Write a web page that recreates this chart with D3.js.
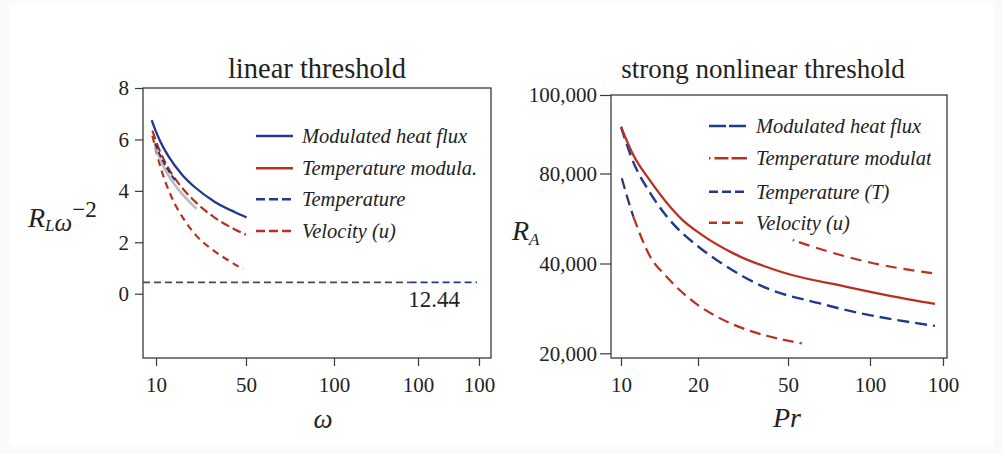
<!DOCTYPE html>
<html>
<head>
<meta charset="utf-8">
<script src="https://cdn.jsdelivr.net/npm/d3@7"></script>
<style>
  html, body { margin: 0; padding: 0; background: #fafafb; }
  svg { display: block; font-family: "Liberation Serif", "DejaVu Serif", serif; }
</style>
</head>
<body>
<svg id="chart" width="1003" height="454"></svg>
<script>
// ---------- data: linear threshold panel (x = ω, y = R_L ω^-2) ----------
const omegaTicks = [10, 50, 100, 200, 500];
const omegaTickLabels = ["10", "50", "100", "100", "100"];
const linearTicks = [0, 2, 4, 6, 8];

const heatFluxLinear = [[8.1, 6.75], [9.56, 6.40], [11.8, 5.94], [15.5, 5.35], [21.4, 4.65], [27.3, 4.14], [36.2, 3.57], [45.1, 3.17], [50.3, 2.97]];
const tempModLinear = [[8.4, 6.34], [11, 5.70], [15.5, 4.88], [21.4, 4.14], [27.3, 3.59], [36.2, 2.95], [45.1, 2.50], [50, 2.29]];
const temperatureLinear = [[9.6, 5.85], [12, 5.35], [15, 4.87], [18.4, 4.42]];
const velocityLinear = [[8.4, 6.14], [12.5, 4.78], [17, 3.74], [22.9, 2.83], [28.1, 2.24], [34.8, 1.73], [42.1, 1.30], [48.8, 0.95]];
const referenceLinear = [[9.5, 5.80], [12, 5.20], [15.5, 4.60], [20, 4.05], [24, 3.65], [28, 3.30]];

const thresholdValue = 0.44;
const thresholdGraySpan = [4.2, 190];
const thresholdBlueSpan = [190, 490];
const thresholdLabel = "12.44";

const legendLabelsLinear = ["Modulated heat flux", "Temperature modula.", "Temperature", "Velocity (u)"];

// ---------- data: strong nonlinear threshold panel (x = Pr, y = R_A) ----------
const prTicks = [10, 20, 50, 100, 200];
const prTickLabels = ["10", "20", "50", "100", "100"];
const raTicks = [20000, 40000, 80000, 100000];

const tempModStrong = [[10, 91900], [11.6, 84700], [13.8, 76700], [18, 59300], [20.7, 53300], [31.8, 44500], [48.4, 38000], [85.8, 34800], [127.4, 32800], [189, 31000]];
const temperatureStrong = [[10, 91900], [11.6, 82900], [13.8, 71300], [15.9, 61100], [20.7, 46900], [26.2, 41600], [42.9, 34500], [69.5, 31100], [85.8, 29600], [189, 26100]];
const velocityStrongHead = [[10.1, 77900], [10.8, 69600], [11.6, 60800]];
const velocityStrong = [[11.6, 60800], [13.8, 43000], [15.9, 37100], [20.7, 30400], [26.2, 28200], [37.3, 25000], [42.9, 23900], [58.4, 22200]];
const velocityUpperStrong = [[52.9, 50400], [75.6, 45100], [100, 40450], [186.7, 37800]];

const legendLabelsStrong = ["Modulated heat flux", "Temperature modulation", "Temperature (T)", "Velocity (u)"];

// ---------- styling ----------
const BLUE = "#21398a";
const NAVY = "#2c3466";
const RED = "#b83020";
const GRAY = "#b9bcc4";
const AXIS = "#3a3a3a";
const INK = "#222";
const SERIF = '"Liberation Serif", "DejaVu Serif", serif';

const svg = d3.select("#chart");
svg.append("rect").attr("x", 9).attr("y", 3).attr("width", 985).attr("height", 444).attr("fill", "#ffffff");

function frame(g, w, h) {
  g.append("rect").attr("width", w).attr("height", h)
    .attr("fill", "#fff").attr("stroke", AXIS).attr("stroke-width", 1.3);
}

function styleAxis(sel) {
  sel.attr("font-family", SERIF);
  sel.select(".domain").remove();
  sel.selectAll(".tick line").attr("stroke", AXIS).attr("stroke-width", 1.2);
  sel.selectAll(".tick text").attr("fill", INK).attr("font-size", 21);
}

function drawSeries(g, data, x, y, stroke, width, dash) {
  const line = d3.line().x(d => x(d[0])).y(d => y(d[1])).curve(d3.curveMonotoneX);
  g.append("path").datum(data)
    .attr("d", line)
    .attr("fill", "none")
    .attr("stroke", stroke)
    .attr("stroke-width", width)
    .attr("stroke-linecap", "butt")
    .attr("stroke-dasharray", dash || null);
}

function legend(g, x0, rows, entries, sampleLen, clipped) {
  const lg = g.append("g");
  entries.forEach((e, i) => {
    lg.append("line")
      .attr("x1", x0).attr("x2", x0 + sampleLen)
      .attr("y1", rows[i]).attr("y2", rows[i])
      .attr("stroke", e.color).attr("stroke-width", 2.4)
      .attr("stroke-dasharray", e.dash || null);
    lg.append("text")
      .attr("x", x0 + sampleLen + 9).attr("y", rows[i] + 7)
      .attr("font-size", 20.5).attr("font-style", "italic").attr("fill", INK)
      .attr("clip-path", clipped ? "url(#legendClip)" : null)
      .text(e.label);
  });
}

// ---------- left panel ----------
const L = { x: 143, y: 88, w: 348, h: 270 };
const gL = svg.append("g").attr("transform", `translate(${L.x},${L.y})`);
frame(gL, L.w, L.h);

const xL = d3.scaleLinear().domain(omegaTicks).range([13, 103, 191, 275, 336]);
const yL = d3.scaleLinear().domain([-2.5, 8]).range([L.h, 0]);

gL.append("g").attr("transform", `translate(0,${L.h})`)
  .call(d3.axisBottom(xL).tickValues(omegaTicks).tickFormat((d, i) => omegaTickLabels[i]).tickSize(8).tickPadding(11))
  .call(styleAxis);
gL.append("g")
  .call(d3.axisLeft(yL).tickValues(linearTicks).tickFormat(d3.format("d")).tickSize(8).tickPadding(6))
  .call(styleAxis);

// threshold line
drawSeries(gL, thresholdGraySpan.map(w => [w, thresholdValue]), xL, yL, "#4a4a4a", 1.8, "7,4");
drawSeries(gL, thresholdBlueSpan.map(w => [w, thresholdValue]), xL, yL, BLUE, 1.8, "7,4");
gL.append("text")
  .attr("x", xL(thresholdBlueSpan[1]) - 17)
  .attr("y", yL(thresholdValue) + 25)
  .attr("text-anchor", "end").attr("font-size", 23).attr("fill", INK)
  .text(thresholdLabel);

drawSeries(gL, velocityLinear, xL, yL, RED, 2.2, "7,5");
drawSeries(gL, tempModLinear, xL, yL, RED, 2.2, "9,4");
drawSeries(gL, referenceLinear, xL, yL, GRAY, 2.6, null);
drawSeries(gL, temperatureLinear, xL, yL, NAVY, 2.0, "6,3");
drawSeries(gL, heatFluxLinear, xL, yL, BLUE, 2.3, null);

legend(gL, 113, [48, 80.3, 111.3, 143], [
  { label: legendLabelsLinear[0], color: BLUE, dash: null },
  { label: legendLabelsLinear[1], color: RED, dash: null },
  { label: legendLabelsLinear[2], color: BLUE, dash: "9,4" },
  { label: legendLabelsLinear[3], color: RED, dash: "9,4" }
], 37, false);

svg.append("text").attr("x", L.x + L.w / 2).attr("y", 78)
  .attr("text-anchor", "middle").attr("font-size", 28.5).attr("fill", INK)
  .text("linear threshold");

// y label R_L ω^-2
const yLab = svg.append("text").attr("x", 28).attr("y", 227).attr("fill", INK);
yLab.append("tspan").attr("font-style", "italic").attr("font-size", 28).text("R");
yLab.append("tspan").attr("font-style", "italic").attr("font-size", 17).attr("dy", 4).text("L");
yLab.append("tspan").attr("font-style", "italic").attr("font-size", 25).text("ω");
yLab.append("tspan").attr("font-size", 23).attr("dy", -14).text("−2");

svg.append("text").attr("x", 323).attr("y", 428)
  .attr("text-anchor", "middle").attr("font-size", 27).attr("font-style", "italic").attr("fill", INK)
  .text("ω");

// ---------- right panel ----------
const R = { x: 611, y: 95, w: 336, h: 263 };
const gR = svg.append("g").attr("transform", `translate(${R.x},${R.y})`);
frame(gR, R.w, R.h);

const xR = d3.scaleLinear().domain(prTicks).range([10, 87, 177, 259, 332]);
const yR = d3.scaleLinear().domain(raTicks).range([258.3, 168.5, 78.5, 0]);

gR.append("g").attr("transform", `translate(0,${R.h})`)
  .call(d3.axisBottom(xR).tickValues(prTicks).tickFormat((d, i) => prTickLabels[i]).tickSize(8).tickPadding(11))
  .call(styleAxis);
gR.append("g")
  .call(d3.axisLeft(yR).tickValues(raTicks).tickFormat(d3.format(",")).tickSize(11).tickPadding(3))
  .call(styleAxis);

drawSeries(gR, velocityUpperStrong, xR, yR, RED, 2.2, "1.5,5,11,7,11,7,11,7,11,7,11,7,11,7,11,7,11,7");
drawSeries(gR, velocityStrongHead, xR, yR, NAVY, 2.2, "11,6");
drawSeries(gR, velocityStrong, xR, yR, RED, 2.2, "11,6");
drawSeries(gR, temperatureStrong, xR, yR, BLUE, 2.4, "12,6");
drawSeries(gR, tempModStrong, xR, yR, RED, 2.3, null);

svg.append("defs").append("clipPath").attr("id", "legendClip")
  .append("rect").attr("x", 0).attr("y", 0).attr("width", 320).attr("height", 263);

legend(gR, 98, [31, 63.3, 96.7, 127.7], [
  { label: legendLabelsStrong[0], color: BLUE, dash: "17,3" },
  { label: legendLabelsStrong[1], color: RED, dash: "1.5,4,14,3,16,3" },
  { label: legendLabelsStrong[2], color: BLUE, dash: "9,4" },
  { label: legendLabelsStrong[3], color: RED, dash: "8,5" }
], 38, true);

svg.append("text").attr("x", 763).attr("y", 78)
  .attr("text-anchor", "middle").attr("font-size", 27).attr("fill", INK)
  .text("strong nonlinear threshold");

const rLab = svg.append("text").attr("x", 512).attr("y", 240).attr("fill", INK);
rLab.append("tspan").attr("font-style", "italic").attr("font-size", 28).text("R");
rLab.append("tspan").attr("font-style", "italic").attr("font-size", 17).attr("dy", 5).text("A");

svg.append("text").attr("x", 787).attr("y", 427)
  .attr("text-anchor", "middle").attr("font-size", 28).attr("font-style", "italic").attr("fill", INK)
  .text("Pr");
</script>
</body>
</html>
